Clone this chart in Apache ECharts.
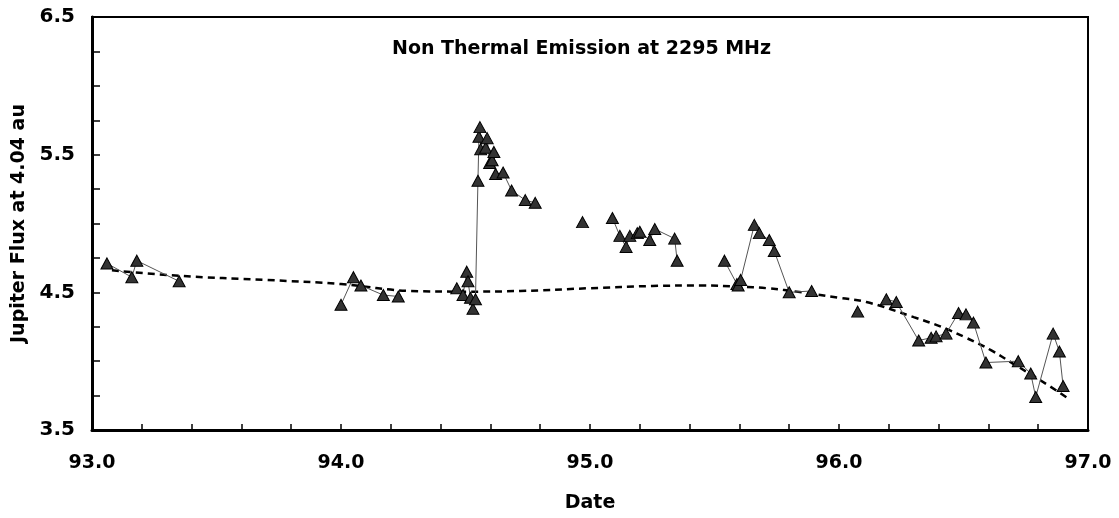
<!DOCTYPE html>
<html>
<head>
<meta charset="utf-8">
<script src="https://cdn.jsdelivr.net/npm/echarts@6/dist/echarts.min.js"></script>
<style>
html,body{margin:0;padding:0;background:#fff;}
#chart{width:1119px;height:518px;}
</style>
</head>
<body>
<div id="chart"></div>
<script>
// Observations (null flux = break in the connecting line)
const dates = [93.06, 93.16, 93.18, 93.35, 93.70,
  94.00, 94.05, 94.08, 94.17, 94.23, 94.35,
  94.465, 94.49, 94.505, 94.51, 94.52, 94.53, 94.54, 94.55, 94.554, 94.558, 94.561, 94.581, 94.587, 94.597, 94.607, 94.614, 94.621, 94.651, 94.685, 94.74, 94.78, 94.90,
  94.97, 95.03,
  95.09, 95.12, 95.145, 95.16, 95.19, 95.20, 95.24, 95.26, 95.34, 95.35, 95.45,
  95.54, 95.59, 95.595, 95.605, 95.66, 95.68, 95.72, 95.74, 95.80, 95.89, 96.00,
  96.075, 96.13,
  96.19, 96.23, 96.32, 96.37, 96.39, 96.43, 96.48, 96.51, 96.54, 96.59, 96.72, 96.77, 96.79, 96.86, 96.885, 96.90];
const flux = [4.71, 4.61, 4.73, 4.58, null,
  4.41, 4.61, 4.55, 4.48, 4.47, null,
  4.53, 4.48, 4.65, 4.58, 4.46, 4.38, 4.45, 5.31, 5.63, 5.70, 5.54, 5.55, 5.62, 5.44, 5.46, 5.52, 5.36, 5.37, 5.24, 5.17, 5.15, null,
  5.01, null,
  5.04, 4.91, 4.83, 4.91, 4.93, 4.94, 4.88, 4.96, 4.89, 4.73, null,
  4.73, 4.56, 4.55, 4.59, 4.99, 4.93, 4.88, 4.80, 4.50, 4.51, null,
  4.36, null,
  4.45, 4.43, 4.15, 4.17, 4.18, 4.20, 4.35, 4.34, 4.28, 3.99, 4.00, 3.91, 3.74, 4.20, 4.07, 3.82];

// Fitted trend (dashed)
const trendDates = [93.08, 93.35, 93.70, 94.00, 94.28, 94.50, 94.72, 95.00, 95.25, 95.45, 95.60, 95.71, 95.85, 96.00, 96.11, 96.30, 96.41, 96.51, 96.61, 96.71, 96.81, 96.92];
const trendFlux  = [4.66, 4.62, 4.59, 4.56, 4.51, 4.505, 4.51, 4.53, 4.546, 4.55, 4.54, 4.53, 4.50, 4.46, 4.43, 4.32, 4.25, 4.17, 4.08, 3.97, 3.86, 3.73];

const xTickLabels = ['93.0', '94.0', '95.0', '96.0', '97.0'];
const yTickLabels = ['3.5', '4.5', '5.5', '6.5'];

const FONT = 'DejaVu Sans';
const obsData = dates.map((d, i) => [d, flux[i] == null ? '-' : flux[i]]);
const trendData = trendDates.map((d, i) => [d, trendFlux[i]]);

const chart = echarts.init(document.getElementById('chart'), null, {renderer: 'canvas'});
chart.setOption({
  animation: false,
  backgroundColor: '#fff',
  grid: {left: 92, right: 31, top: 17, bottom: 87, show: true, borderColor: '#000', borderWidth: 2, backgroundColor: 'transparent'},
  graphic: [{
    type: 'text', left: 582 - 190, top: 40,
    style: {text: 'Non Thermal Emission at 2295 MHz', font: 'bold 19px "' + FONT + '"', fill: '#000'}
  }],
  xAxis: {
    type: 'value', min: 93, max: 97, interval: 0.2,
    name: 'Date', nameLocation: 'middle', nameGap: 64,
    nameTextStyle: {fontFamily: FONT, fontWeight: 'bold', fontSize: 19, color: '#000'},
    axisLine: {show: true, lineStyle: {color: '#000', width: 3}},
    axisTick: {show: true, inside: true, length: 6, lineStyle: {color: '#000', width: 1.5}},
    splitLine: {show: false},
    axisLabel: {
      margin: 24, fontFamily: FONT, fontWeight: 'bold', fontSize: 19, color: '#000',
      formatter: v => { const s = v.toFixed(1); return xTickLabels.includes(s) && Math.abs(v - Math.round(v)) < 1e-6 ? s : ''; }
    }
  },
  yAxis: {
    type: 'value', min: 3.5, max: 6.5, interval: 0.25,
    name: 'Jupiter Flux at 4.04 au', nameLocation: 'middle', nameGap: 58, nameRotate: 90,
    nameTextStyle: {fontFamily: FONT, fontWeight: 'bold', fontSize: 19, color: '#000'},
    axisLine: {show: true, lineStyle: {color: '#000', width: 3}},
    axisTick: {show: true, inside: true, length: 8, lineStyle: {color: '#000', width: 1.5}},
    splitLine: {show: false},
    axisLabel: {
      margin: 17, fontFamily: FONT, fontWeight: 'bold', fontSize: 20, color: '#000',
      formatter: v => { const s = v.toFixed(1); return yTickLabels.includes(s) && Math.abs((v - 3.5) - Math.round(v - 3.5)) < 1e-6 ? s : ''; }
    }
  },
  series: [
    {
      type: 'line', data: trendData, smooth: 0.4, symbol: 'none', z: 2,
      lineStyle: {color: '#000', width: 2.5, type: [7, 5]}
    },
    {
      type: 'line', data: obsData, connectNulls: false, z: 3,
      symbol: 'triangle', symbolSize: [12, 11],
      lineStyle: {color: '#555', width: 1},
      itemStyle: {color: '#333', borderColor: '#000', borderWidth: 1}
    }
  ]
});
</script>
</body>
</html>
